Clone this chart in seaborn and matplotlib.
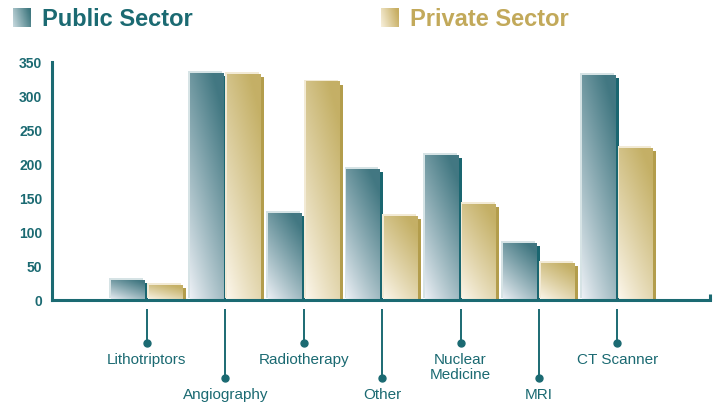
import numpy as np
import pandas as pd
import matplotlib
matplotlib.use("Agg")
import matplotlib.pyplot as plt
import matplotlib.patheffects as pe
import seaborn as sns

categories = ["Lithotriptors", "Angiography", "Radiotherapy", "Other",
              "Nuclear\nMedicine", "MRI", "CT Scanner"]
public = [30, 334, 128, 193, 213, 84, 331]
private = [22, 332, 321, 123, 141, 54, 223]
series_names = ["Public Sector", "Private Sector"]
yticks = [0, 50, 100, 150, 200, 250, 300, 350]

TEAL = "#1b6a72"
GOLD = "#c2a95a"

sns.set_style("white")
plt.rcParams["font.family"] = ["Liberation Sans", "DejaVu Sans"]

df = pd.DataFrame({
    "category": categories * 2,
    "value": public + private,
    "sector": [series_names[0]] * len(categories) + [series_names[1]] * len(categories),
})

W, H = 717, 406
fig = plt.figure(figsize=(W / 100, H / 100), dpi=100)
ax = fig.add_axes([52 / W, 1 - 301 / H, (710 - 52) / W, (301 - 62.7) / H])

palette = {series_names[0]: "#6f969c", series_names[1]: "#dccb92"}
sns.barplot(data=df, x="category", y="value", hue="sector", order=categories,
            hue_order=series_names, palette=palette, width=0.96, gap=0.1,
            legend=False, ax=ax, saturation=1, linewidth=0)

grad_cols = {
    0: (np.array([0.94, 0.95, 0.97]), np.array([0.26, 0.47, 0.51])),
    1: (np.array([0.99, 0.97, 0.93]), np.array([0.77, 0.69, 0.40])),
}
shadow_cols = {0: "#1a6670", 1: "#b39d4c"}
hl_cols = {0: "#d6e3e5", 1: "#f2ead5"}

bars = [p for p in ax.patches]
n = len(categories)
yy, xx = np.mgrid[0:1:200j, 0:1:60j]
t = np.clip((0.45 * xx + 0.8 * yy) / 1.1, 0, 1)
for k, patch in enumerate(bars):
    s = 0 if k < n else 1
    light, dark = grad_cols[s]
    img = light[None, None, :] + (t[:, :, None] ** 0.9) * (dark - light)[None, None, :]
    x0, y0 = patch.get_x(), patch.get_y()
    w, h = patch.get_width(), patch.get_height()
    patch.set_linewidth(0)
    patch.set_edgecolor("none")
    patch.set_path_effects([
        pe.SimplePatchShadow(offset=(2.2, -2.2), shadow_rgbFace=shadow_cols[s], alpha=1.0),
        pe.SimplePatchShadow(offset=(-1.3, 1.3), shadow_rgbFace=hl_cols[s], alpha=1.0),
        pe.Normal(),
    ])
    im = ax.imshow(img, extent=[x0, x0 + w, y0, y0 + h], origin="lower",
                   aspect="auto", zorder=patch.get_zorder() + 0.01,
                   interpolation="bilinear")
    im.set_clip_path(patch)

ax.set_xlim(-1.21, 7.18)
ax.set_ylim(0, 350)
ax.set_yticks(yticks)
ax.set_yticklabels([str(v) for v in yticks], fontweight="bold")
ax.tick_params(axis="y", direction="in", length=11, width=2.2, color=TEAL,
               labelcolor=TEAL, labelsize=10, pad=7)
ax.set_xticks([])
ax.set_xlabel("")
ax.set_ylabel("")
for side in ["top", "right"]:
    ax.spines[side].set_visible(False)
for side in ["left", "bottom"]:
    ax.spines[side].set_color(TEAL)
    ax.spines[side].set_linewidth(2.2)
ax.plot([1, 1], [0, 6 / 238.3], transform=ax.transAxes, clip_on=False,
        color=TEAL, lw=2.2, solid_capstyle="butt")

trans = ax.get_xaxis_transform()
ah = (301 - 62.7)
def yf(px):
    return (301 - px) / ah

for i, cat in enumerate(categories):
    dot_px = 344 if i % 2 == 0 else 379
    ax.plot([i, i], [yf(310), yf(dot_px)], transform=trans, clip_on=False,
            color=TEAL, lw=1.4, solid_capstyle="butt")
    ax.plot([i], [yf(dot_px)], "o", transform=trans, clip_on=False,
            color=TEAL, ms=5)
    ax.text(i, yf(dot_px + 9), cat, transform=trans, ha="center", va="top",
            color=TEAL, fontsize=11, linespacing=1.1)

# legend
def legend_square(x0, x1, y0, y1, light, dark):
    lax = fig.add_axes([x0 / W, 1 - y1 / H, (x1 - x0) / W, (y1 - y0) / H])
    gy, gx = np.mgrid[0:1:30j, 0:1:30j]
    tt = np.clip(0.85 * gx + 0.25 * gy, 0, 1)
    im = light[None, None, :] + tt[:, :, None] * (dark - light)[None, None, :]
    lax.imshow(im, origin="lower", aspect="auto", interpolation="bilinear")
    lax.axis("off")

legend_square(13, 31, 9, 28, np.array([0.78, 0.85, 0.87]), np.array([0.25, 0.47, 0.50]))
legend_square(381, 399, 9, 28, np.array([0.97, 0.94, 0.86]), np.array([0.78, 0.68, 0.38]))
fig.text(42 / W, 1 - 19 / H, series_names[0], ha="left", va="center",
         fontsize=17, fontweight="bold", color=TEAL)
fig.text(410 / W, 1 - 19 / H, series_names[1], ha="left", va="center",
         fontsize=17, fontweight="bold", color=GOLD)

fig.savefig("out.png", dpi=100)
